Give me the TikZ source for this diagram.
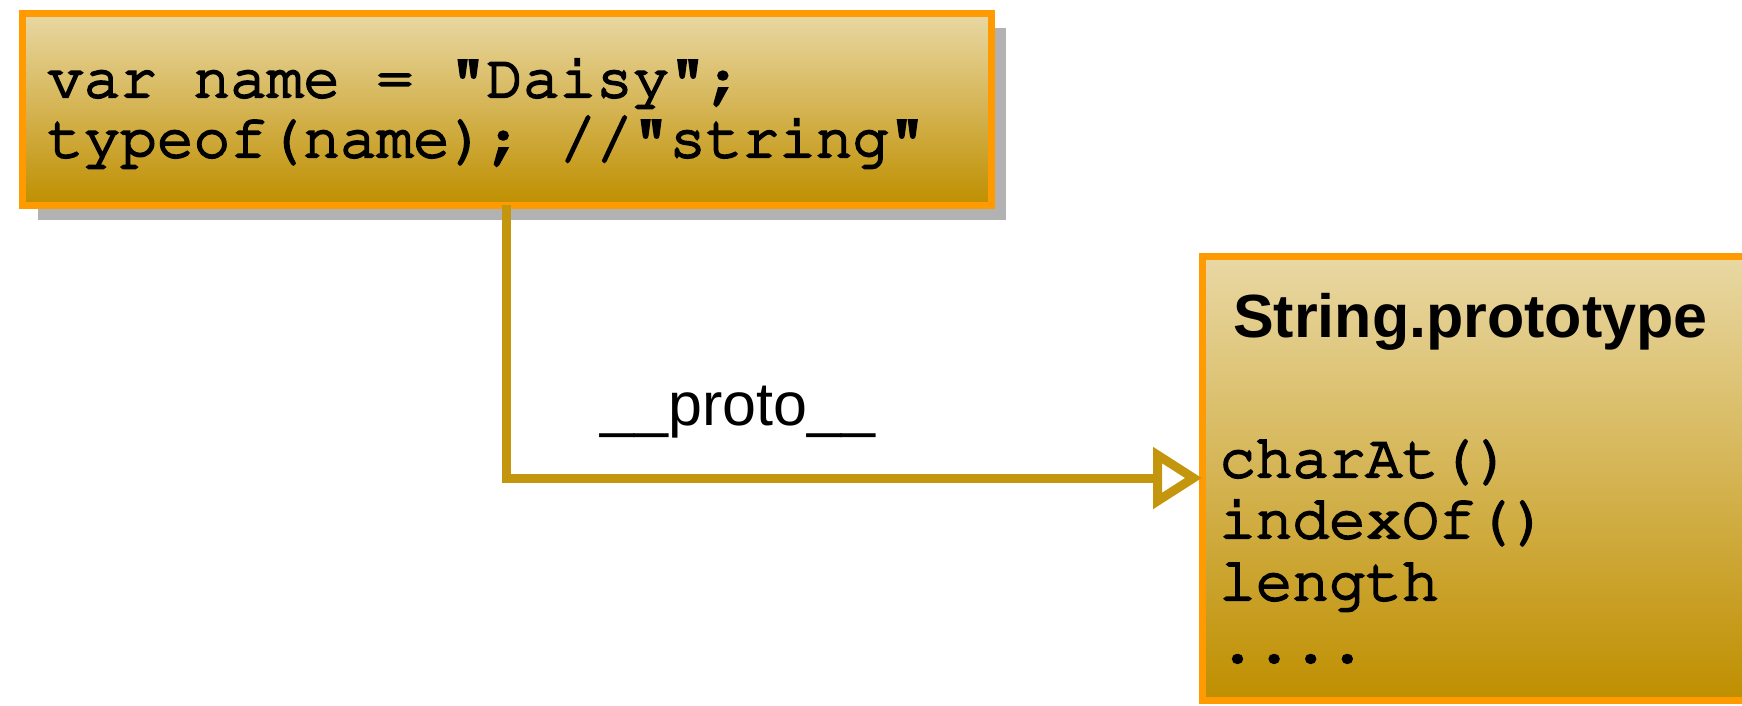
\documentclass[tikz,border=0pt]{standalone}
\usepackage[T1]{fontenc}
\usepackage{fontspec}
\setmainfont{Liberation Sans}
\usetikzlibrary{arrows.meta,shadows}
\newcommand\courfont{\fontencoding{T1}\fontfamily{pcr}\selectfont}
\newcommand\medtext[1]{\special{pdf:literal direct 2 Tr 2.2 w}#1\special{pdf:literal direct 0 Tr}}
\definecolor{boxtop}{HTML}{E9D8A4}
\definecolor{boxbot}{HTML}{BF8F00}
\definecolor{boxborder}{HTML}{FF9A00}
\definecolor{connc}{HTML}{C4960E}
\definecolor{shadowc}{HTML}{B2B2B2}
\tikzset{
  box/.style={draw=boxborder, line width=7pt, top color=boxtop, bottom color=boxbot,
    rectangle, inner sep=0pt, outer sep=0pt, anchor=north west},
  shad/.style={drop shadow={shadow xshift=15pt, shadow yshift=-15pt, fill=shadowc, opacity=1}},
  codetext/.style={anchor=base west, inner sep=0pt, font=\courfont\fontsize{61}{61}\selectfont},
  labeltext/.style={anchor=base, inner sep=0pt, font=\fontsize{61}{61}\selectfont},
  titletext/.style={anchor=base west, inner sep=0pt, font=\bfseries\fontsize{61}{61}\selectfont},
  conn/.style={draw=connc, line width=9pt, -{Triangle[open, length=49pt, width=60pt, fill=white]}}
}
\begin{document}
\begin{tikzpicture}[x=1pt,y=-1pt]
\useasboundingbox (0,0) rectangle (1742,705);
\node[box, shad, minimum width=968.5pt, minimum height=192pt] (b1) at (22.5,13) {};
\node[box, minimum width=568pt, minimum height=444pt] (b2) at (1202,256) {};
\node[codetext] (l1) at (47,97) {\medtext{var name = "Daisy";}};
\node[codetext] (l2) at (47,157) {\medtext{typeof(name); //"string"}};
\node[titletext] (t2) at (1233,337) {String.prototype};
\node[codetext] (m1) at (1219,477) {\medtext{charAt()}};
\node[codetext] (m2) at (1219,538) {\medtext{indexOf()}};
\node[codetext] (m3) at (1219,600) {\medtext{length}};
\node[codetext] (m4) at (1219,662) {\medtext{....}};
\draw[conn] (b1.south) |- (b2.west);
\node[labeltext] (lab) at (738,425) {\_\_proto\_\_};
\end{tikzpicture}
\end{document}
